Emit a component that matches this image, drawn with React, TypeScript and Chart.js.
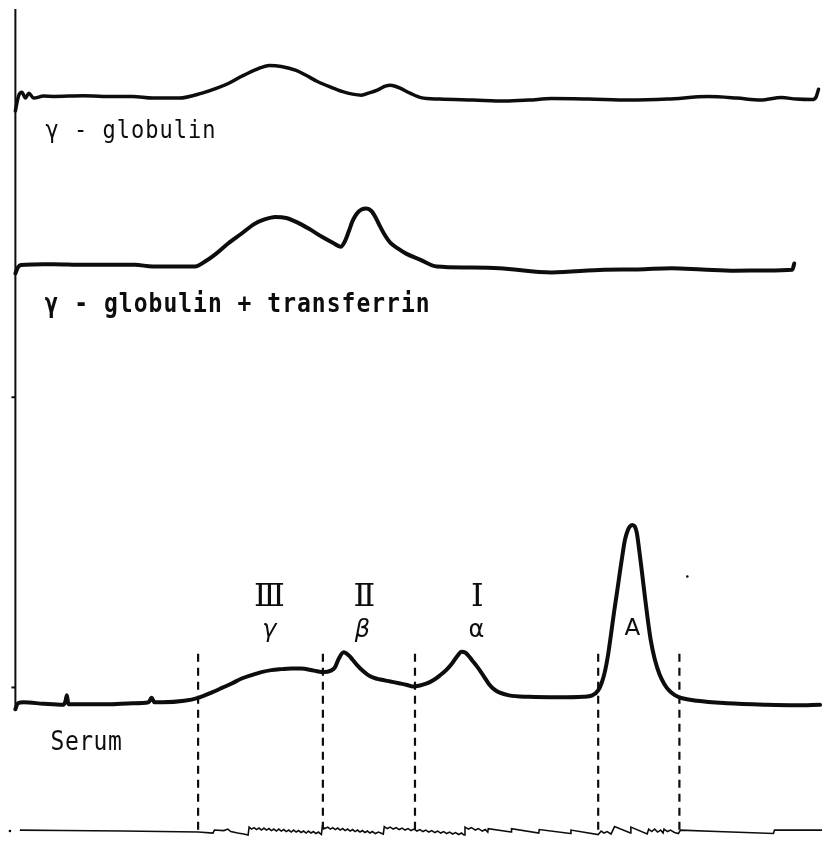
import React, { useEffect, useRef } from "react";
import { Chart, registerables } from "chart.js";

Chart.register(...registerables);

const W = 826;
const H = 842;

// Trace 1: γ-globulin (upper)
const gammaX = [11.5, 13, 15, 18, 21.7, 25, 30, 40, 50, 80, 100, 130, 150, 177, 200, 215, 227, 240, 255, 268, 280, 295, 305, 316, 330, 342, 352, 361, 368, 377, 385, 390, 395, 400, 410, 421, 440, 474, 506, 530, 553, 590, 632, 670, 711, 740, 764, 785, 800, 816, 820, 822.5];
const gammaY = [108, 100, 92, 89, 95, 90, 95, 93, 93.3, 92.7, 93.3, 93.3, 95, 95, 90, 85, 80, 73, 66, 62, 63, 67, 72, 78, 84, 88.5, 91, 92, 90, 87, 83, 82, 83, 85, 90, 94.5, 96, 97, 98, 97, 95.5, 96, 97, 96, 93.5, 95, 97, 94.5, 96, 96.5, 94, 86];

// Trace 2: γ-globulin + transferrin
const transX = [11.5, 14, 17, 30, 50, 79, 100, 132, 150, 180, 193, 203, 213, 226, 240, 253, 263, 274, 285, 295, 308, 321, 332, 340, 344, 348, 352, 356, 361, 366, 371, 375, 380, 385, 390, 398, 406, 420, 437, 470, 500, 553, 606, 640, 674, 705, 738, 770, 796, 798];
const transY = [272, 266, 263.5, 263, 262.7, 263.3, 263.3, 263.3, 265, 265, 265, 260, 253, 242, 231.7, 222, 217.5, 215, 216, 220, 227, 235, 241, 245, 240, 230, 219, 212, 207.5, 206.5, 209, 215, 225, 234, 241, 247, 252, 258, 265, 266, 266.7, 271, 268.3, 268, 266.7, 268, 269.3, 269, 268.3, 262];

// Trace 3: serum
const serumX = [11.5, 14, 20, 40, 60, 62, 63.5, 65, 80, 105, 130, 146, 149, 152, 160, 182, 196, 210, 220, 230, 240, 250, 260, 270, 280, 290, 300, 313, 323, 330, 334, 338, 343, 348, 352, 357, 362, 367, 373, 380, 390, 400, 407, 413, 420, 427, 433, 440, 447, 453, 458, 462, 466, 469, 473, 477, 482, 486, 490, 495, 500, 510, 530, 560, 585, 594, 600, 604, 607, 610, 613, 616, 619, 622, 625, 627, 630, 632, 634.5, 637, 639, 641, 644, 647, 650, 653, 657, 662, 667, 672, 677, 682, 700, 730, 770, 800, 824];
const serumY = [712, 706, 705, 706.5, 707.5, 704, 698, 707, 707, 707, 706, 705, 700.5, 705, 705, 703.5, 700.5, 695, 690.5, 686, 681, 677.5, 674.5, 672.5, 671.5, 670.8, 670.8, 673, 674.5, 673, 670, 661, 654.5, 657.5, 662, 668, 673, 677, 680, 682, 684, 686, 687.5, 689, 688, 686, 683, 678, 672, 665, 658, 654, 655, 658, 663, 668, 675, 681, 687, 692, 695, 698, 699.5, 700, 699.5, 698, 693, 684, 673, 657, 636, 614, 594, 573, 553, 541, 531, 527.5, 526, 527.5, 534, 548, 572, 597, 621, 642, 661, 677, 687, 693.5, 697.5, 700, 703.5, 706, 707.5, 708, 707.5];

// Integrator (bottom) trace
const integX = [16, 60, 120, 196, 211, 212.5, 222, 226, 229, 236, 242, 246.5,
  247.5, 250, 252.5, 255, 257.5, 260, 262.5, 265, 267.5, 270, 272.5, 275, 277.5, 280, 282.5, 285, 287.5, 290, 292.5, 295, 297.5, 300, 302.5, 305, 307.5, 310, 312.5, 315, 317.5, 320.5,
  321.5, 324, 327, 329.5, 332, 334.5, 337, 339.5, 342, 344.5, 347, 349.5, 352, 354.5, 357, 359.5, 362, 364.5, 367, 369.5, 372, 375, 378, 383,
  384, 387, 390, 393, 396, 399, 402, 405, 408, 411, 414, 417, 420, 423, 426, 429, 432, 435, 438, 441, 444, 447, 450, 453, 456, 459, 462, 464.5,
  465.5, 469, 472, 476, 479, 483, 486, 488.5,
  489, 512, 512.5, 540, 540.5, 572, 572.5, 600,
  603, 606, 609, 613, 616.5, 632.5, 633, 649.5, 651, 654, 657, 660, 663, 665.5, 666.5, 670, 673, 677, 681,
  683, 720, 777, 778, 826];
const integY = [834, 834.5, 835, 836, 837, 834, 834.5, 833, 835.5, 837, 838, 839,
  831, 833, 831.5, 833.5, 832, 834, 832, 834, 832.5, 834.5, 833, 835, 833, 835, 833.5, 835.5, 834, 836, 834, 836, 834.5, 836.5, 835, 837, 835, 837, 835.5, 837.5, 836, 838.5,
  830.5, 832.5, 831, 833, 831.5, 833.5, 832, 834, 832.5, 834.5, 833, 835, 833.5, 835.5, 834, 836, 834.5, 836.5, 835, 837, 835.5, 837.5, 836, 838,
  830.5, 832.5, 831, 833, 831.5, 833.5, 832, 834, 832.5, 834.5, 833, 835, 833.5, 835.5, 834, 836, 834.5, 836.5, 835, 837, 835.5, 837.5, 836, 838, 836.5, 838.5, 837, 839,
  831, 833, 831.5, 834, 832.5, 835, 833.5, 836,
  832.5, 836, 832.5, 837, 833.5, 837.5, 834, 838.5,
  835, 837, 835.5, 838, 830.5, 837, 831, 838, 833, 835.5, 833, 836, 834, 837, 833, 835.5, 834, 836.5, 837.5,
  834, 835.5, 837.5, 834, 834];

// Fraction boundaries (dashed)
const boundaryX = [196, 322, 415, 600, 682];
const boundaryTop = 656;
const boundaryBottom = 838;

// Left axis and its small ticks
const axisX = 11.5;
const axisTop = 5;
const axisBottom = 712;
const axisTicksY = [397, 690];

// Stray dots
const dotsX = [6, 690];
const dotsY = [835, 578];

// Labels
const traceLabels = ["γ - globulin", "γ - globulin + transferrin", "Serum"];
const fractionNumerals = ["Ⅲ", "Ⅱ", "Ⅰ"];
const fractionGreek = ["γ", "β", "α"];
const albuminLabel = "A";

const INK = "#0d0d0d";

function pts(xs: number[], ys: number[]) {
  return xs.map((x, i) => ({ x, y: ys[i] }));
}

const textPlugin = {
  id: "figureTexts",
  afterDatasetsDraw(chart: any) {
    const { ctx, scales } = chart;
    const sx = scales.x;
    const sy = scales.y;
    const put = (t: string, x: number, y: number, font: string, align: CanvasTextAlign, stretch = 1, spacing = "0px") => {
      ctx.save();
      ctx.font = font;
      ctx.textAlign = align;
      ctx.textBaseline = "alphabetic";
      (ctx as any).letterSpacing = spacing;
      ctx.translate(sx.getPixelForValue(x), sy.getPixelForValue(y));
      ctx.scale(1, stretch);
      ctx.fillText(t, 0, 0);
      ctx.restore();
    };
    ctx.save();
    ctx.fillStyle = INK;
    put(traceLabels[0], 42, 135, "22px 'DejaVu Sans Mono'", "left", 1.12, "1px");
    put(traceLabels[1], 41, 311, "bold 23px 'DejaVu Sans Mono'", "left", 1.12, "1px");
    put(traceLabels[2], 47, 753, "23px 'DejaVu Sans Mono'", "left", 1.12, "0.5px");
    const numX = [268, 364, 478];
    const greekX = [268, 362, 477];
    fractionNumerals.forEach((t, i) => put(t, numX[i], 608, "32px 'DejaVu Serif'", "center"));
    fractionGreek.forEach((t, i) => put(t, greekX[i], 639, i < 2 ? "italic 24px 'DejaVu Sans'" : "24px 'DejaVu Sans'", "center"));
    put(albuminLabel, 634.5, 637, "23px 'DejaVu Sans'", "center");
    ctx.restore();
  },
};

export default function App() {
  const ref = useRef<HTMLCanvasElement>(null);
  useEffect(() => {
    document.body.style.margin = "0";
    document.body.style.background = "#ffffff";
    const traceStyle = (w: number) => ({
      borderColor: INK,
      borderWidth: w,
      pointRadius: 0,
      tension: 0.4,
      cubicInterpolationMode: "monotone" as const,
      borderJoinStyle: "round" as const,
      borderCapStyle: "round" as const,
      fill: false,
    });
    const plain = (w: number) => ({
      borderColor: INK,
      borderWidth: w,
      pointRadius: 0,
      tension: 0,
      fill: false,
      borderJoinStyle: "miter" as const,
    });
    const datasets: any[] = [
      { label: "axis", data: [{ x: axisX, y: axisTop }, { x: axisX, y: axisBottom }], ...plain(2) },
      ...axisTicksY.map((y) => ({ label: "tick", data: [{ x: axisX - 4, y }, { x: axisX, y }], ...plain(2) })),
      { label: "γ-globulin", data: pts(gammaX, gammaY), ...traceStyle(3.5) },
      { label: "γ-globulin + transferrin", data: pts(transX, transY), ...traceStyle(4) },
      { label: "Serum", data: pts(serumX, serumY), ...traceStyle(4) },
      ...boundaryX.map((x) => ({
        label: "boundary",
        data: [{ x, y: boundaryTop }, { x, y: boundaryBottom }],
        ...plain(2.2),
        borderDash: [8, 6],
      })),
      { label: "integrator", data: pts(integX, integY), ...plain(1.6) },
      {
        type: "scatter",
        label: "dots",
        data: pts(dotsX, dotsY),
        pointRadius: 1.3,
        pointBackgroundColor: INK,
        pointBorderWidth: 0,
        showLine: false,
      },
    ];
    const chart = new Chart(ref.current!, {
      type: "line",
      data: { datasets },
      options: {
        animation: false,
        responsive: false,
        devicePixelRatio: 1,
        layout: { padding: 0 },
        scales: {
          x: { type: "linear", min: 0, max: W, display: false },
          y: { type: "linear", min: 0, max: H, reverse: true, display: false },
        },
        plugins: { legend: { display: false }, tooltip: { enabled: false } },
        elements: { point: { radius: 0 } },
      },
      plugins: [textPlugin],
    });
    return () => chart.destroy();
  }, []);
  return <canvas ref={ref} width={W} height={H} style={{ display: "block", width: W, height: H }} />;
}
